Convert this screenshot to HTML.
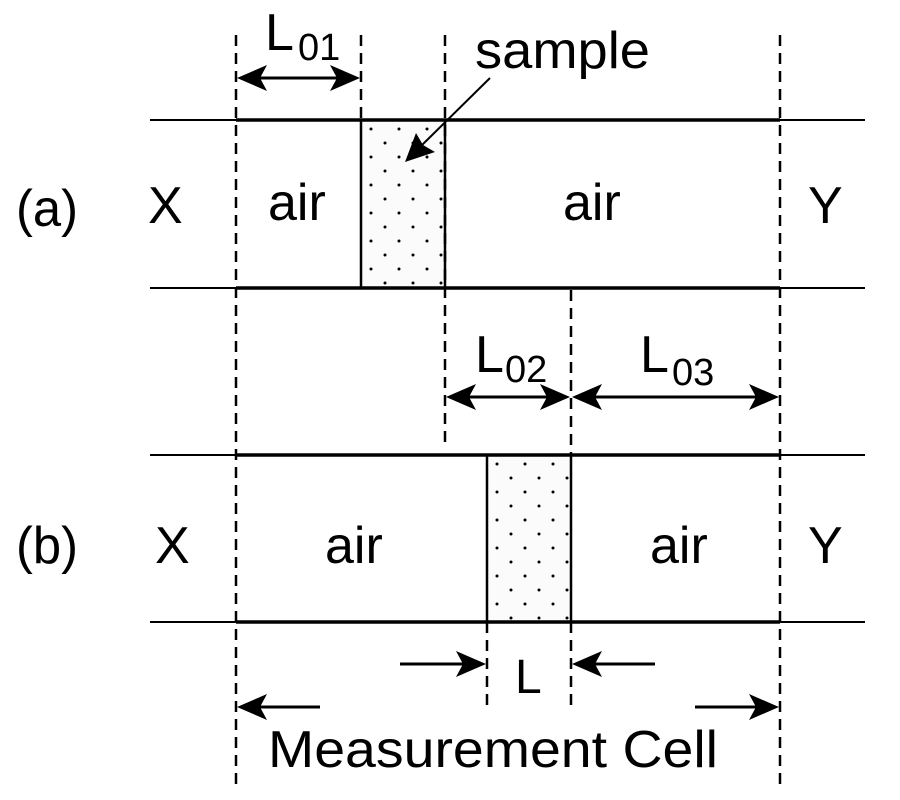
<!DOCTYPE html>
<html><head><meta charset="utf-8"><style>
html,body{margin:0;padding:0;background:#fff;}
svg{display:block;}
text{font-family:"Liberation Sans",sans-serif;fill:#000;}
</style></head><body>
<svg width="900" height="800" viewBox="0 0 900 800" xmlns="http://www.w3.org/2000/svg">
<defs>
<pattern id="dots" x="361" y="120" width="28" height="28" patternUnits="userSpaceOnUse">
<rect width="28" height="28" fill="#fbfbfb"/>
<circle cx="10" cy="9" r="1.5" fill="#000"/>
<circle cx="24" cy="23" r="1.5" fill="#000"/>
</pattern>
<pattern id="dots2" x="487" y="455" width="28" height="28" patternUnits="userSpaceOnUse">
<rect width="28" height="28" fill="#fbfbfb"/>
<circle cx="10" cy="9" r="1.5" fill="#000"/>
<circle cx="24" cy="23" r="1.5" fill="#000"/>
</pattern>
</defs>

<rect x="361" y="120" width="84" height="168" fill="url(#dots)" stroke="#000" stroke-width="2.5"/>
<rect x="487" y="455" width="84" height="167" fill="url(#dots2)" stroke="#000" stroke-width="2.5"/>

<g stroke="#000">
<line x1="150" y1="120" x2="865" y2="120" stroke-width="2"/>
<line x1="236" y1="120" x2="780" y2="120" stroke-width="3.5"/>
<line x1="150" y1="288" x2="865" y2="288" stroke-width="2"/>
<line x1="236" y1="288" x2="780" y2="288" stroke-width="3.5"/>
<line x1="150" y1="455" x2="865" y2="455" stroke-width="2"/>
<line x1="236" y1="455" x2="780" y2="455" stroke-width="3.5"/>
<line x1="150" y1="622" x2="865" y2="622" stroke-width="2"/>
<line x1="236" y1="622" x2="780" y2="622" stroke-width="3.5"/>
</g>

<g stroke="#000" stroke-width="2.5" stroke-dasharray="11,7">
<line x1="236" y1="35" x2="236" y2="785"/>
<line x1="361" y1="35" x2="361" y2="120"/>
<line x1="445" y1="35" x2="445" y2="445"/>
<line x1="571" y1="290" x2="571" y2="455"/>
<line x1="571" y1="622" x2="571" y2="712"/>
<line x1="487" y1="622" x2="487" y2="712"/>
<line x1="780" y1="35" x2="780" y2="785"/>
</g>

<g stroke="#000" stroke-width="3">
<line x1="245" y1="78" x2="352" y2="78"/>
<line x1="455" y1="397" x2="562" y2="397"/>
<line x1="580" y1="397" x2="771" y2="397"/>
<line x1="400" y1="664" x2="478" y2="664"/>
<line x1="655" y1="664" x2="580" y2="664"/>
<line x1="320" y1="707" x2="245" y2="707"/>
<line x1="695" y1="707" x2="771" y2="707"/>
<line x1="490" y1="78" x2="420" y2="147" stroke-width="2"/>
</g>
<g fill="#000">
<polygon points="237,78 267,65 260,78 267,91"/>
<polygon points="360,78 330,65 337,78 330,91"/>
<polygon points="446,397 476,384 469,397 476,410"/>
<polygon points="570,397 540,384 547,397 540,410"/>
<polygon points="572,397 602,384 595,397 602,410"/>
<polygon points="779,397 749,384 756,397 749,410"/>
<polygon points="486,664 456,651 463,664 456,677"/>
<polygon points="572,664 602,651 595,664 602,677"/>
<polygon points="237,707 267,694 260,707 267,720"/>
<polygon points="779,707 749,694 756,707 749,720"/>
<polygon points="405,162 416,133 423,145 435,152"/>
</g>

<g font-size="52">
<text x="265" y="50">L</text><text x="298" y="60" font-size="38">01</text>
<text x="475" y="68" textLength="175" lengthAdjust="spacingAndGlyphs">sample</text>
<text x="16" y="226" textLength="62" lengthAdjust="spacingAndGlyphs">(a)</text>
<text x="148" y="223">X</text>
<text x="268" y="220">air</text>
<text x="563" y="220">air</text>
<text x="808" y="223">Y</text>
<text x="475" y="372">L</text><text x="505" y="382" font-size="38">02</text>
<text x="640" y="372">L</text><text x="672" y="385" font-size="38">03</text>
<text x="16" y="563" textLength="62" lengthAdjust="spacingAndGlyphs">(b)</text>
<text x="155" y="563">X</text>
<text x="325" y="563">air</text>
<text x="650" y="563">air</text>
<text x="808" y="563">Y</text>
<text x="515" y="693" font-size="48">L</text>
<text x="268" y="767" textLength="450" lengthAdjust="spacingAndGlyphs">Measurement Cell</text>
</g>
</svg>
</body></html>
